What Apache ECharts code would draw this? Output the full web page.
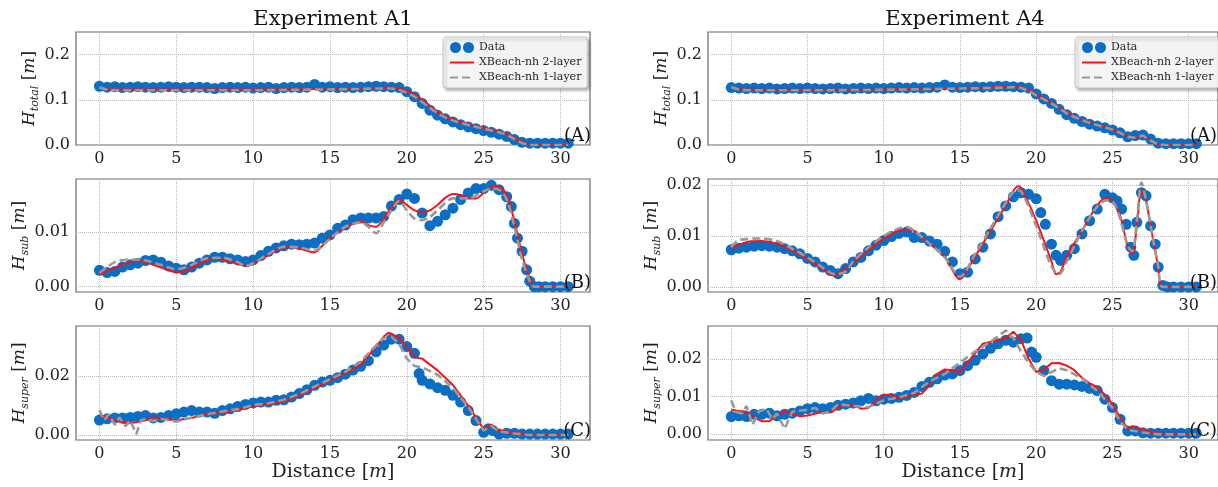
<!DOCTYPE html>
<html><head><meta charset="utf-8">
<script src="https://cdn.jsdelivr.net/npm/echarts@6/dist/echarts.min.js"></script>
<style>html,body{margin:0;padding:0;background:#fff}#c{width:1218px;height:487px}</style>
</head><body><div id="c"></div>
<script>
const seriesNames = ['Data', 'XBeach-nh 2-layer', 'XBeach-nh 1-layer'];
const panelTitles = ['Experiment A1', 'Experiment A4'];
const panelTags = ['(A)', '(B)', '(C)'];
const ySubscripts = ['total', 'sub', 'super'];
const xTicks = [0, 5, 10, 15, 20, 25, 30];
const yTicksTotal = [0, 0.1, 0.2];
const yTicksA1Sub = [0, 0.01];
const yTicksA1Super = [0, 0.02];
const yTicksA4Sub = [0, 0.01, 0.02];
const yTicksA4Super = [0, 0.01, 0.02];

// ---------- Experiment A1 : H_total ----------
const a1TotalData = [[0,0.130],[0.5,0.128],[1,0.129],[1.5,0.127],[2,0.128],[2.5,0.129],[3,0.128],[3.5,0.127],[4,0.128],[4.5,0.129],[5,0.128],[5.5,0.127],[6,0.128],[6.5,0.128],[7,0.127],[7.5,0.125],[8,0.127],[8.5,0.128],[9,0.127],[9.5,0.128],[10,0.126],[10.5,0.127],[11,0.128],[11.5,0.125],[12,0.127],[12.5,0.128],[13,0.127],[13.5,0.128],[14,0.134],[14.5,0.128],[15,0.129],[15.5,0.127],[16,0.128],[16.5,0.127],[17,0.128],[17.5,0.129],[18,0.130],[18.5,0.129],[19,0.128],[19.5,0.127],[20,0.118],[20.5,0.107],[21,0.092],[21.5,0.077],[22,0.066],[22.5,0.058],[23,0.051],[23.5,0.045],[24,0.040],[24.5,0.036],[25,0.032],[25.5,0.028],[26,0.024],[26.5,0.019],[27,0.012],[27.5,0.006],[28,0.004],[28.5,0.004],[29,0.004],[29.5,0.004],[30,0.004],[30.5,0.004]];
const a1TotalRed = [[0,0.126],[0.5,0.124],[1,0.123],[5,0.123],[10,0.123],[15,0.124],[17,0.125],[18,0.126],[19,0.127],[19.5,0.125],[20,0.120],[20.5,0.112],[21,0.101],[21.5,0.087],[22,0.074],[22.5,0.064],[23,0.057],[23.5,0.051],[24,0.046],[24.5,0.042],[25,0.038],[25.5,0.034],[26,0.030],[26.5,0.025],[27,0.016],[27.5,0.007],[28,0.002],[28.5,0],[30.5,0]];
const a1TotalGray = [[0,0.127],[0.5,0.122],[1,0.121],[5,0.121],[10,0.121],[15,0.123],[17,0.124],[18,0.125],[19,0.125],[19.5,0.122],[20,0.116],[20.5,0.107],[21,0.095],[21.5,0.082],[22,0.070],[22.5,0.061],[23,0.054],[23.5,0.049],[24,0.044],[24.5,0.040],[25,0.036],[25.5,0.032],[26,0.028],[26.5,0.023],[27,0.013],[27.5,0.004],[28,0],[30.5,0]];

// ---------- Experiment A1 : H_sub ----------
const a1SubData = [[0,0.0030],[0.5,0.0026],[1,0.0028],[1.5,0.0036],[2,0.0040],[2.5,0.0043],[3,0.0048],[3.5,0.0049],[4,0.0045],[4.5,0.0038],[5,0.0034],[5.5,0.0031],[6,0.0036],[6.5,0.0043],[7,0.0049],[7.5,0.0054],[8,0.0054],[8.5,0.0051],[9,0.0049],[9.5,0.0046],[10,0.0049],[10.5,0.0057],[11,0.0065],[11.5,0.0071],[12,0.0075],[12.5,0.0078],[13,0.0077],[13.5,0.0078],[14,0.0080],[14.5,0.0089],[15,0.0095],[15.5,0.0107],[16,0.0113],[16.5,0.0123],[17,0.0126],[17.5,0.0126],[18,0.0126],[18.5,0.0129],[19,0.0148],[19.5,0.0160],[20,0.0170],[20.5,0.0162],[21,0.0135],[21.5,0.0112],[22,0.0120],[22.5,0.0132],[23,0.0144],[23.5,0.0160],[24,0.0172],[24.5,0.0180],[25,0.0180],[25.5,0.0186],[26,0.0178],[26.5,0.0165],[26.8,0.0147],[27,0.0116],[27.2,0.0089],[27.5,0.0065],[27.8,0.0031],[28,0.0010],[28.3,0],[28.6,0],[29,0],[29.5,0],[30,0],[30.5,0]];
const a1SubRed = [[0,0.0022],[1,0.0035],[2,0.0045],[2.5,0.0047],[3,0.0045],[4,0.0035],[5,0.0027],[5.5,0.0028],[6,0.0035],[7,0.0048],[7.5,0.0052],[8,0.0050],[9,0.0042],[9.5,0.0038],[10,0.0042],[11,0.0058],[12,0.0072],[12.5,0.0073],[13,0.0070],[14,0.0063],[14.5,0.0075],[15,0.0090],[16,0.0108],[17,0.0120],[17.5,0.0113],[18,0.0110],[18.5,0.0125],[19,0.0145],[19.5,0.0160],[20,0.0150],[20.5,0.0140],[21,0.0137],[21.5,0.0140],[22,0.0150],[22.5,0.0163],[23,0.0170],[23.5,0.0168],[24,0.0162],[24.5,0.0162],[25,0.0172],[25.5,0.0183],[26,0.0183],[26.5,0.0168],[27,0.0120],[27.5,0.0060],[28,0.0015],[28.3,0],[30.5,0]];
const a1SubGray = [[0,0.0025],[1,0.0045],[2,0.0050],[3,0.0048],[4,0.0040],[5,0.0032],[6,0.0040],[7,0.0052],[8,0.0053],[9,0.0045],[9.5,0.0038],[10,0.0043],[11,0.0060],[12,0.0073],[13,0.0072],[14,0.0066],[14.5,0.0075],[15,0.0088],[16,0.0110],[17,0.0118],[17.5,0.0110],[18,0.0098],[18.5,0.0118],[19,0.0140],[19.5,0.0157],[20,0.0140],[20.5,0.0125],[21,0.0122],[21.5,0.0128],[22,0.0140],[23,0.0162],[24,0.0162],[25,0.0175],[25.5,0.0180],[26,0.0178],[26.5,0.0160],[27,0.0110],[27.5,0.0050],[28,0.0010],[28.3,0],[30.5,0]];

// ---------- Experiment A1 : H_super ----------
const a1SuperData = [[0,0.0051],[0.5,0.0055],[1,0.0058],[1.5,0.0058],[2,0.0060],[2.5,0.0063],[3,0.0066],[3.5,0.0058],[4,0.0060],[4.5,0.0066],[5,0.0072],[5.5,0.0078],[6,0.0083],[6.5,0.0078],[7,0.0078],[7.5,0.0074],[8,0.0083],[8.5,0.0089],[9,0.0097],[9.5,0.0104],[10,0.0109],[10.5,0.0112],[11,0.0112],[11.5,0.0118],[12,0.0120],[12.5,0.0129],[13,0.0141],[13.5,0.0154],[14,0.0169],[14.5,0.0180],[15,0.0186],[15.5,0.0195],[16,0.0207],[16.5,0.0221],[17,0.0234],[17.5,0.0253],[18,0.0283],[18.5,0.0306],[19,0.0326],[19.5,0.0326],[20,0.0301],[20.5,0.0278],[20.8,0.0209],[21,0.0186],[21.5,0.0174],[22,0.0161],[22.5,0.0152],[23,0.0135],[23.5,0.0112],[24,0.0083],[24.5,0.0049],[25,0.0009],[25.3,0.0021],[25.6,0.0015],[26,0.0003],[26.5,0.0006],[27,0.0006],[27.5,0.0003],[28,0.0003],[28.5,0.0003],[29,0.0003],[29.5,0.0003],[30,0.0003],[30.5,0.0003]];
const a1SuperRed = [[0,0.0068],[0.5,0.0060],[1,0.0050],[1.5,0.0042],[2,0.0040],[3,0.0050],[3.5,0.0060],[4,0.0058],[5,0.0050],[6,0.0058],[7,0.0072],[8,0.0076],[9,0.0085],[10,0.0098],[11,0.0105],[12,0.0115],[13,0.0135],[14,0.0160],[15,0.0185],[16,0.0210],[17,0.0240],[18,0.0300],[18.5,0.0335],[18.8,0.0348],[19,0.0345],[19.5,0.0330],[20,0.0300],[20.5,0.0265],[21,0.0260],[22,0.0220],[23,0.0170],[24,0.0100],[24.5,0.0060],[25,0.0020],[25.5,0.0035],[26,0.0015],[27,0.0008],[28,0.0002],[30.5,0]];
const a1SuperGray = [[0,0.0085],[0.3,0.0050],[0.6,0.0070],[1,0.0035],[1.3,0.0060],[1.7,0.0030],[2,0.0050],[2.4,0.0003],[2.7,0.0050],[3,0.0055],[3.5,0.0048],[4,0.0055],[5,0.0045],[6,0.0060],[7,0.0070],[8,0.0080],[9,0.0088],[10,0.0102],[11,0.0108],[12,0.0120],[13,0.0140],[14,0.0165],[15,0.0190],[16,0.0215],[17,0.0250],[18,0.0305],[18.5,0.0330],[19,0.0335],[19.5,0.0310],[20,0.0260],[20.5,0.0235],[21,0.0230],[22,0.0205],[23,0.0160],[24,0.0095],[24.5,0.0055],[25,0.0015],[25.5,0.0030],[26,0.0012],[27,0.0005],[28,0],[30.5,0]];

// ---------- Experiment A4 : H_total ----------
const a4TotalData = [[0,0.127],[0.5,0.126],[1,0.125],[1.5,0.126],[2,0.125],[2.5,0.126],[3,0.124],[3.5,0.125],[4,0.126],[4.5,0.125],[5,0.126],[5.5,0.125],[6,0.124],[6.5,0.125],[7,0.126],[7.5,0.124],[8,0.125],[8.5,0.126],[9,0.125],[9.5,0.126],[10,0.125],[10.5,0.126],[11,0.127],[11.5,0.126],[12,0.127],[12.5,0.126],[13,0.127],[13.5,0.128],[14,0.133],[14.5,0.128],[15,0.127],[15.5,0.128],[16,0.129],[16.5,0.128],[17,0.129],[17.5,0.130],[18,0.130],[18.5,0.129],[19,0.128],[19.5,0.126],[20,0.113],[20.5,0.102],[21,0.092],[21.5,0.079],[22,0.067],[22.5,0.059],[23,0.052],[23.5,0.046],[24,0.042],[24.5,0.038],[25,0.033],[25.5,0.027],[26,0.018],[26.5,0.021],[27,0.022],[27.5,0.013],[28,0.004],[28.5,0.003],[29,0.003],[29.5,0.003],[30,0.003],[30.5,0.003]];
const a4TotalRed = [[0,0.128],[0.5,0.124],[1,0.122],[5,0.122],[10,0.123],[15,0.126],[17,0.127],[18,0.129],[18.5,0.130],[19,0.128],[19.5,0.122],[20,0.112],[20.5,0.103],[21,0.094],[21.5,0.083],[22,0.072],[22.5,0.063],[23,0.056],[23.5,0.050],[24,0.045],[24.5,0.040],[25,0.035],[25.5,0.028],[26,0.019],[26.5,0.016],[27,0.020],[27.5,0.011],[28,0.002],[28.5,0],[30.5,0]];
const a4TotalGray = [[0,0.128],[0.5,0.123],[1,0.121],[5,0.121],[10,0.122],[15,0.125],[17,0.126],[18,0.127],[18.5,0.128],[19,0.126],[19.5,0.120],[20,0.110],[20.5,0.101],[21,0.092],[21.5,0.081],[22,0.070],[22.5,0.062],[23,0.055],[23.5,0.049],[24,0.044],[24.5,0.039],[25,0.034],[25.5,0.027],[26,0.018],[26.5,0.016],[27,0.021],[27.5,0.010],[28,0.001],[28.5,0],[30.5,0]];

// ---------- Experiment A4 : H_sub ----------
const a4SubData = [[0,0.0073],[0.5,0.0076],[1,0.0078],[1.5,0.0080],[2,0.0081],[2.5,0.0080],[3,0.0078],[3.5,0.0075],[4,0.0071],[4.5,0.0065],[5,0.0056],[5.5,0.0049],[6,0.0039],[6.5,0.0032],[7,0.0026],[7.5,0.0036],[8,0.0049],[8.5,0.0058],[9,0.0071],[9.5,0.0082],[10,0.0091],[10.5,0.0099],[11,0.0105],[11.5,0.0108],[12,0.0097],[12.5,0.0097],[13,0.0090],[13.5,0.0084],[14,0.0070],[14.5,0.0049],[15,0.0026],[15.5,0.0029],[16,0.0055],[16.5,0.0078],[17,0.0104],[17.5,0.0138],[18,0.0159],[18.5,0.0177],[19,0.0185],[19.5,0.0182],[20,0.0173],[20.3,0.0146],[20.6,0.0123],[21,0.0084],[21.3,0.0062],[21.6,0.0052],[22,0.0062],[22.5,0.0075],[23,0.0104],[23.5,0.0130],[24,0.0153],[24.5,0.0182],[25,0.0175],[25.3,0.0169],[25.6,0.0153],[25.9,0.0123],[26.2,0.0078],[26.4,0.0062],[26.6,0.0127],[26.9,0.0185],[27.2,0.0179],[27.5,0.0120],[27.8,0.0084],[28,0.0039],[28.3,0.0003],[28.6,0],[29,0],[29.5,0],[30,0],[30.5,0]];
const a4SubRed = [[0,0.0075],[1,0.0088],[2,0.0090],[3,0.0085],[4,0.0072],[5,0.0055],[6,0.0035],[6.8,0.0022],[7,0.0025],[8,0.0048],[9,0.0072],[10,0.0095],[11,0.0110],[11.5,0.0113],[12,0.0110],[13,0.0085],[14,0.0060],[15,0.0015],[15.2,0.0020],[16,0.0060],[17,0.0110],[18,0.0160],[18.8,0.0198],[19,0.0195],[20,0.0130],[21,0.0050],[21.3,0.0025],[21.6,0.0030],[22,0.0060],[23,0.0110],[24,0.0160],[24.6,0.0175],[25,0.0170],[25.5,0.0140],[26,0.0080],[26.3,0.0065],[26.6,0.0120],[26.9,0.0190],[27.2,0.0170],[27.5,0.0120],[28,0.0040],[28.3,0],[30.5,0]];
const a4SubGray = [[0,0.0078],[0.5,0.0092],[2,0.0095],[3,0.0090],[4,0.0075],[5,0.0058],[6,0.0038],[6.8,0.0025],[7.5,0.0030],[8,0.0050],[9,0.0078],[10,0.0100],[11,0.0115],[11.5,0.0118],[12,0.0110],[13,0.0085],[14,0.0058],[15,0.0020],[16,0.0065],[17,0.0115],[18,0.0165],[18.7,0.0190],[19,0.0188],[20,0.0120],[21,0.0040],[21.5,0.0025],[22,0.0050],[23,0.0110],[24,0.0158],[24.6,0.0170],[25,0.0168],[25.5,0.0135],[26,0.0080],[26.3,0.0070],[26.6,0.0130],[26.9,0.0205],[27.2,0.0170],[27.5,0.0120],[28,0.0040],[28.3,0],[30.5,0]];

// ---------- Experiment A4 : H_super ----------
const a4SuperData = [[0,0.0047],[0.5,0.0049],[1,0.0047],[1.5,0.0053],[2,0.0053],[2.5,0.0056],[3,0.0049],[3.5,0.0053],[4,0.0056],[4.5,0.0062],[5,0.0068],[5.5,0.0071],[6,0.0068],[6.5,0.0071],[7,0.0077],[7.5,0.0080],[8,0.0083],[8.5,0.0089],[9,0.0095],[9.5,0.0089],[10,0.0093],[10.5,0.0095],[11,0.0098],[11.5,0.0103],[12,0.0111],[12.5,0.0127],[13,0.0138],[13.5,0.0147],[14,0.0157],[14.5,0.0160],[15,0.0169],[15.5,0.0182],[16,0.0196],[16.5,0.0213],[17,0.0228],[17.5,0.0240],[18,0.0249],[18.5,0.0244],[19,0.0253],[19.4,0.0255],[19.7,0.0218],[20,0.0204],[20.5,0.0169],[21,0.0142],[21.5,0.0133],[22,0.0133],[22.5,0.0131],[23,0.0127],[23.5,0.0122],[24,0.0116],[24.5,0.0093],[25,0.0071],[25.5,0.0040],[26,0.0009],[26.5,0.0009],[27,0.0004],[27.5,0.0003],[28,0.0003],[28.5,0.0003],[29,0.0003],[29.5,0.0003],[30,0.0003],[30.5,0.0003]];
const a4SuperRed = [[0,0.0065],[0.5,0.0062],[1,0.0060],[1.5,0.0045],[2,0.0035],[2.5,0.0035],[3,0.0050],[3.5,0.0062],[4,0.0055],[4.5,0.0048],[5,0.0050],[6,0.0060],[6.5,0.0058],[7,0.0070],[7.5,0.0078],[8,0.0078],[8.5,0.0068],[9,0.0070],[9.5,0.0090],[10,0.0105],[10.5,0.0105],[11,0.0095],[11.5,0.0100],[12,0.0105],[12.5,0.0108],[13,0.0130],[13.5,0.0160],[14,0.0172],[14.5,0.0170],[15,0.0165],[15.5,0.0190],[16,0.0215],[16.5,0.0240],[17,0.0245],[17.5,0.0250],[18,0.0255],[18.5,0.0272],[19,0.0250],[19.5,0.0200],[20,0.0165],[20.5,0.0172],[21,0.0188],[21.5,0.0189],[22,0.0182],[22.5,0.0170],[23,0.0150],[23.5,0.0135],[24,0.0125],[24.5,0.0105],[25,0.0080],[25.5,0.0045],[26,0.0015],[26.3,0.0022],[27,0.0012],[28,0.0002],[30.5,0]];
const a4SuperGray = [[0,0.0090],[0.3,0.0060],[0.7,0.0055],[1,0.0075],[1.4,0.0025],[1.8,0.0060],[2.3,0.0068],[2.7,0.0040],[3,0.0055],[3.5,0.0015],[4,0.0060],[5,0.0065],[5.5,0.0070],[6,0.0055],[6.5,0.0060],[7,0.0080],[8,0.0075],[9,0.0072],[10,0.0090],[11,0.0098],[12,0.0110],[13,0.0140],[14,0.0160],[15,0.0190],[16,0.0220],[17,0.0245],[17.5,0.0260],[18,0.0275],[18.5,0.0255],[19,0.0220],[19.5,0.0190],[20,0.0165],[20.5,0.0155],[21,0.0165],[21.5,0.0175],[22,0.0170],[23,0.0148],[24,0.0115],[25,0.0070],[25.5,0.0035],[26,0.0012],[27,0.0005],[28,0],[30.5,0]];

// ---------- layout / style ----------
const FONT = 'DejaVu Serif';
const colLeft = [76, 708];
const colWidth = 514;
const rowTop = [32, 179, 326];
const rowHeight = [113, 113, 114];
const xRange = [-1.525, 31.92];
const tagRight = [591, 1217];
const yNameGap = [34, 37, 38];

const panels = [
  {col:0, row:0, data:a1TotalData, red:a1TotalRed, gray:a1TotalGray, yr:[0,0.25], ticks:yTicksTotal, dec:1},
  {col:0, row:1, data:a1SubData, red:a1SubRed, gray:a1SubGray, yr:[-0.00098,0.01976], ticks:yTicksA1Sub, dec:2},
  {col:0, row:2, data:a1SuperData, red:a1SuperRed, gray:a1SuperGray, yr:[-0.0017,0.0371], ticks:yTicksA1Super, dec:2},
  {col:1, row:0, data:a4TotalData, red:a4TotalRed, gray:a4TotalGray, yr:[0,0.25], ticks:yTicksTotal, dec:1},
  {col:1, row:1, data:a4SubData, red:a4SubRed, gray:a4SubGray, yr:[-0.001,0.0212], ticks:yTicksA4Sub, dec:2},
  {col:1, row:2, data:a4SuperData, red:a4SuperRed, gray:a4SuperGray, yr:[-0.0015,0.0287], ticks:yTicksA4Super, dec:2}
];

const gridLine = {show:true, lineStyle:{color:'#b8b8b8', type:'dotted', width:1}};
const grids = [], xAxes = [], yAxes = [], series = [], graphics = [];

panels.forEach((p, i) => {
  grids.push({left:colLeft[p.col], top:rowTop[p.row], width:colWidth, height:rowHeight[p.row],
    show:true, borderColor:'#6a6a6a', borderWidth:1.2, backgroundColor:'transparent'});
  xAxes.push({type:'value', gridIndex:i, min:xRange[0], max:xRange[1],
    axisLine:{show:false}, axisTick:{show:false, customValues:xTicks},
    axisLabel:{customValues:xTicks, margin:6, fontFamily:FONT, fontSize:16, color:'#222', formatter:v=>String(Math.round(v))},
    splitLine:gridLine,
    name: p.row === 2 ? '{t|Distance [}{i|m}{t|]}' : '', nameLocation:'middle', nameGap:22,
    nameTextStyle:{rich:{t:{fontFamily:FONT, fontSize:19, color:'#222'}, i:{fontFamily:FONT, fontStyle:'italic', fontSize:19, color:'#222'}}}
  });
  yAxes.push({type:'value', gridIndex:i, min:p.yr[0], max:p.yr[1],
    axisLine:{show:false}, axisTick:{show:false, customValues:p.ticks},
    axisLabel:{customValues:p.ticks, margin:6, fontFamily:FONT, fontSize:16, color:'#222', formatter:v=>v.toFixed(p.dec)},
    splitLine:gridLine,
    name:'{i|H}{s|' + ySubscripts[p.row] + '}{n| [}{i|m}{n|]}', nameLocation:'middle', nameRotate:90, nameGap:yNameGap[p.row],
    nameTextStyle:{rich:{
      i:{fontFamily:FONT, fontStyle:'italic', fontSize:17, lineHeight:22, color:'#222', verticalAlign:'middle'},
      n:{fontFamily:FONT, fontSize:17, lineHeight:22, color:'#222', verticalAlign:'middle'},
      s:{fontFamily:FONT, fontStyle:'italic', fontSize:11, lineHeight:22, color:'#222', verticalAlign:'bottom'}
    }}
  });
  const smooth = p.row === 1 ? 0.3 : false;
  series.push({name:seriesNames[0], type:'scatter', xAxisIndex:i, yAxisIndex:i, data:p.data,
    symbol:'circle', symbolSize:11, itemStyle:{color:'#0b6ec5', opacity:1}, z:2});
  series.push({name:seriesNames[1], type:'line', xAxisIndex:i, yAxisIndex:i, data:p.red, smooth:smooth,
    symbol:'none', lineStyle:{color:'#ff1010', width:2}, itemStyle:{color:'#ff1010'}, z:3});
  series.push({name:seriesNames[2], type:'line', xAxisIndex:i, yAxisIndex:i, data:p.gray, smooth:smooth,
    symbol:'none', lineStyle:{color:'#999999', width:2.6, type:[8,4]}, itemStyle:{color:'#999999'}, z:4});

  graphics.push({type:'text', x:tagRight[p.col], y:rowTop[p.row] + rowHeight[p.row] - 9,
    style:{text:panelTags[p.row], fontFamily:FONT, fontSize:18, fill:'#111', align:'right', verticalAlign:'middle'}, z:20});
});

[0, 1].forEach(c => {
  graphics.push({type:'text', x:colLeft[c] + colWidth / 2, y:20,
    style:{text:panelTitles[c], fontFamily:FONT, fontSize:21, fill:'#111', align:'center', verticalAlign:'middle'}});
});

const twoDots = 'path://M0,5.5a5.5,5.5 0 1,0 11,0a5.5,5.5 0 1,0 -11,0zM13,5.5a5.5,5.5 0 1,0 11,0a5.5,5.5 0 1,0 -11,0z';
const hiddenSymbol = {color:'rgba(0,0,0,0)', borderColor:'rgba(0,0,0,0)', borderWidth:0, opacity:0};
const legendBase = {orient:'vertical', top:37, itemWidth:24, itemHeight:11, itemGap:4, padding:[5,6,5,6],
  backgroundColor:'rgba(255,255,255,0.85)', borderColor:'#c4c4c4', borderWidth:1, borderRadius:3,
  shadowColor:'rgba(0,0,0,0.35)', shadowBlur:3, shadowOffsetX:2, shadowOffsetY:2,
  textStyle:{fontFamily:FONT, fontSize:11, color:'#222'},
  data:[{name:seriesNames[0], icon:twoDots},
        {name:seriesNames[1], itemStyle:hiddenSymbol},
        {name:seriesNames[2], itemStyle:hiddenSymbol}], selectedMode:false};

const chart = echarts.init(document.getElementById('c'), null, {renderer:'canvas'});
chart.setOption({
  animation:false,
  backgroundColor:'#ffffff',
  grid:grids, xAxis:xAxes, yAxis:yAxes, series:series,
  legend:[Object.assign({left:443}, legendBase), Object.assign({left:1075}, legendBase)],
  graphic:graphics
});
</script>
</body></html>
